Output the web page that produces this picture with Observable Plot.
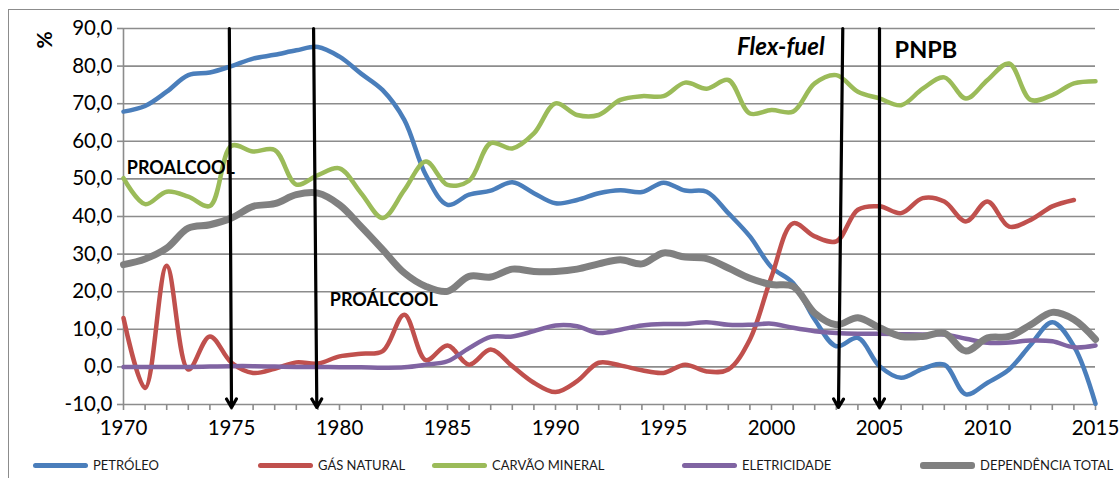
<!DOCTYPE html>
<html>
<head>
<meta charset="utf-8">
<script src="https://cdn.jsdelivr.net/npm/d3@7"></script>
<script src="https://cdn.jsdelivr.net/npm/@observablehq/plot@0.6"></script>
<style>
  body { margin: 0; background: #fff; width: 1119px; height: 478px; overflow: hidden; position: relative; font-family: Lato, "Open Sans", sans-serif; }
  #frame { position: absolute; left: 8px; top: 9px; width: 1300px; height: 700px; border: 1.5px solid #8c8c8c; box-sizing: border-box; }
  #chart { position: absolute; left: 0; top: 0; }
  #ylabel { position: absolute; left: 32px; top: 28px; width: 24px; height: 24px; font-weight: 700; font-size: 21px; transform: rotate(-90deg); transform-origin: center; line-height: 24px; text-align: center; color: #000; }
  #legend { position: absolute; left: 0; top: 455px; width: 1119px; height: 20px; }
  .item { position: absolute; top: 0; height: 20px; display: flex; align-items: center; font-size: 13px; color: #1a1a1a; white-space: nowrap; }
  .sw { height: 5px; border-radius: 3px; margin-right: 5px; }
</style>
</head>
<body>
<div id="frame"></div>
<div id="chart"></div>
<div id="ylabel">%</div>
<div id="legend"></div>
<script>
const years = [1970,1971,1972,1973,1974,1975,1976,1977,1978,1979,
  1980,1981,1982,1983,1984,1985,1986,1987,1988,1989,
  1990,1991,1992,1993,1994,1995,1996,1997,1998,1999,
  2000,2001,2002,2003,2004,2005,2006,2007,2008,2009,
  2010,2011,2012,2013,2014,2015];

const petroleo = [67.9,69.4,73.2,77.6,78.3,80,82,83,84.2,85.1,
  82.5,78,73.6,65.7,51,43.1,45.8,46.9,49.1,46.2,
  43.5,44.4,46.2,47,46.5,49,46.9,46.6,40.9,34.7,
  26.5,22.3,12.6,5.5,7.7,0.2,-2.9,-0.5,0.6,-7.3,
  -4.2,-0.7,5.9,11.9,5.5,-9.8];

const gasNatural = [13,-5.6,26.9,-0.7,8.1,1.1,-1.6,-0.5,1.2,0.9,
  2.8,3.5,4.2,13.9,1.8,5.7,0.6,4.6,0.2,-4.2,
  -6.7,-3.8,1.1,0.4,-0.9,-1.6,0.6,-1.2,-0.7,7.3,
  24,38.2,34.7,33.4,41.8,42.7,40.9,44.9,44,38.7,
  44,37.3,39.1,42.7,44.4,null];

const carvaoMineral = [50.2,43.3,46.6,45.3,42.8,58.8,57.3,57.7,48.5,51,
  52.8,46.2,39.6,47,54.6,48.4,49.5,59.5,58.1,62.1,
  70.1,67,67,71,72,72,75.6,74,76.3,67.4,
  68.3,67.9,75.4,77.6,73.2,71.4,69.6,74,77,71.4,
  76.3,80.7,71,72.3,75.4,76];

const eletricidade = [0,0,0,0,0.1,0.2,0.2,0.1,0,0,
  -0.1,-0.1,-0.2,-0.1,0.6,1.5,5,8,8.1,9.5,
  11,10.8,9,9.9,11,11.4,11.4,11.9,11.2,11.2,
  11.5,10.4,9.5,9,8.8,8.8,8.7,8.6,8.6,7.5,
  6.4,6.5,7,6.8,5.2,5.7];

const dependenciaTotal = [27.2,28.7,31.6,36.9,37.8,39.6,42.7,43.4,45.8,46.2,
  43.1,37.3,31.2,25,21.4,20.1,24.1,23.9,26,25.4,
  25.4,26,27.4,28.5,27.4,30.3,29.2,28.8,26.3,23.6,
  21.9,21.4,14.3,11.2,13.1,10.4,8.1,8.1,9,4.2,
  7.7,8.1,11.2,14.5,12.6,7.3];

const seriesNames = ["PETRÓLEO", "GÁS NATURAL", "CARVÃO MINERAL", "ELETRICIDADE", "DEPENDÊNCIA TOTAL"];
const seriesValues = [petroleo, gasNatural, carvaoMineral, eletricidade, dependenciaTotal];
const seriesColors = ["#4a7ebb", "#c0504d", "#9bbb59", "#8064a2", "#808080"];
const seriesWidths = [4.5, 4.5, 4.5, 4.5, 7];

const yTicks = [-10, 0, 10, 20, 30, 40, 50, 60, 70, 80, 90];
const xLabelTicks = [1970, 1975, 1980, 1985, 1990, 1995, 2000, 2005, 2010, 2015];

const arrowX1 = [1974.9, 1978.8, 2003.3, 2005.0];
const arrowX2 = [1975.0, 1978.95, 2003.1, 2005.0];

const annotations = [
  {label: "PROALCOOL", year: 1970.15, value: 52.9, size: 18},
  {label: "PROÁLCOOL", year: 1979.55, value: 17.6, size: 18},
  {label: "PNPB", year: 2005.7, value: 84.2, size: 23.5}
];
const italicAnnotations = [
  {label: "Flex-fuel", year: 1998.4, value: 84.9, size: 24}
];

const legendLeft = [33, 258, 432, 682, 920];

// build tidy table
const table = [];
seriesNames.forEach((name, i) => {
  years.forEach((yr, j) => {
    table.push({serie: name, year: yr, value: seriesValues[i][j]});
  });
});
const arrows = arrowX1.map((x, i) => ({x1: x, x2: arrowX2[i], y1: 90, y2: -10.8}));

const fmt = d => d.toFixed(1).replace(".", ",");
const grid = "#8c8c8c";

const lineMarks = seriesNames.map((name, i) =>
  Plot.line(table.filter(d => d.serie === name && d.value != null), {
    x: "year", y: "value", stroke: seriesColors[i], strokeWidth: seriesWidths[i],
    curve: "catmull-rom", strokeLinecap: "round", strokeLinejoin: "round"
  })
);

const chart = Plot.plot({
  width: 1119,
  height: 445,
  marginLeft: 123,
  marginRight: 24,
  marginTop: 28,
  marginBottom: 41,
  style: {fontFamily: "Lato, 'Open Sans', sans-serif", fontSize: "20px", color: "#000", background: "transparent", overflow: "visible"},
  x: {domain: [1970, 2015], axis: null},
  y: {domain: [-10, 90], axis: null},
  marks: [
    Plot.ruleY(yTicks, {stroke: grid, strokeWidth: 1.6}),
    Plot.ruleX([1970], {stroke: grid, strokeWidth: 1.6}),
    Plot.axisY({ticks: yTicks, tickSize: 6, tickPadding: 5, tickFormat: fmt, stroke: grid, strokeWidth: 1.6, fill: "#000", fontSize: 20.5}),
    Plot.axisX({ticks: years, tickSize: 6, tickFormat: () => "", stroke: grid, strokeWidth: 1.6}),
    Plot.axisX({ticks: xLabelTicks, tickSize: 0, tickPadding: 16, tickFormat: d => String(d), fill: "#000", fontSize: 20.5}),
    ...lineMarks,
    Plot.text(annotations, {
      x: "year", y: "value", text: "label", textAnchor: "start",
      fontWeight: "bold", fontSize: "size", fill: "#000"
    }),
    Plot.text(italicAnnotations, {
      x: "year", y: "value", text: "label", textAnchor: "start",
      fontWeight: "bold", fontStyle: "italic", fontSize: "size", fill: "#000"
    }),
    Plot.arrow(arrows, {x1: "x1", y1: "y1", x2: "x2", y2: "y2", stroke: "#000", strokeWidth: 3.2, headLength: 4.6, headAngle: 60})
  ]
});
document.getElementById("chart").appendChild(chart);

const legend = document.getElementById("legend");
seriesNames.forEach((name, i) => {
  const item = document.createElement("div");
  item.className = "item";
  item.style.left = legendLeft[i] + "px";
  const sw = document.createElement("div");
  sw.className = "sw";
  sw.style.width = "55px";
  sw.style.background = seriesColors[i];
  sw.style.height = (i === 4 ? 7 : 5) + "px";
  const tx = document.createElement("span");
  tx.textContent = name;
  item.appendChild(sw);
  item.appendChild(tx);
  legend.appendChild(item);
});
</script>
</body>
</html>
